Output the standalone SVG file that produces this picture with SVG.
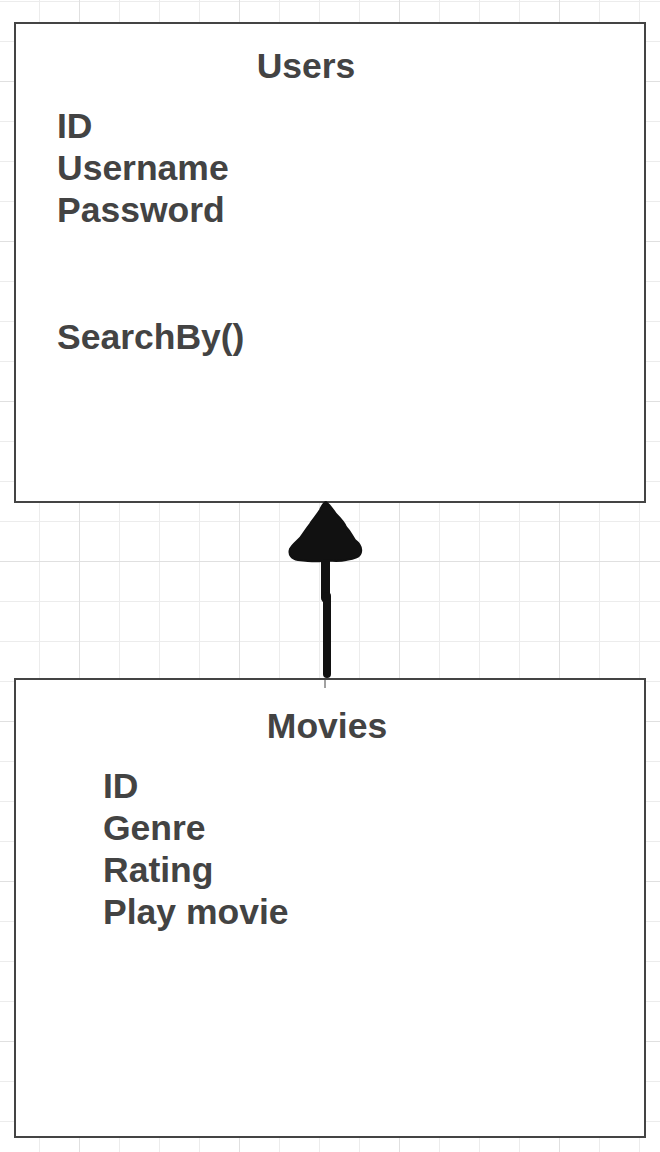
<svg xmlns="http://www.w3.org/2000/svg" width="660" height="1152" viewBox="0 0 660 1152">
  <defs>
    <pattern id="minor" patternUnits="userSpaceOnUse" x="39" y="1" width="40" height="40">
      <path d="M0,0 V40 M0,0 H40" fill="none" stroke="#ececec" stroke-width="2"/>
    </pattern>
    <pattern id="major" patternUnits="userSpaceOnUse" x="79" y="81" width="160" height="160">
      <path d="M0,0 V160 M0,0 H160" fill="none" stroke="#e0e0e0" stroke-width="2"/>
    </pattern>
  </defs>
  <style>
    .box { fill: #ffffff; stroke: #444444; stroke-width: 2; }
    .title { font-family: "Liberation Sans", Arial, sans-serif; font-weight: bold; font-size: 35.5px; fill: #434343; text-anchor: middle; }
    .item { font-family: "Liberation Sans", Arial, sans-serif; font-weight: bold; font-size: 35.5px; fill: #434343; }
  </style>
  <rect width="660" height="1152" fill="#ffffff"/>
  <rect width="660" height="1152" fill="url(#minor)"/>
  <rect width="660" height="1152" fill="url(#major)"/>

  <g id="users">
    <rect class="box" x="15" y="23" width="630" height="479"/>
    <text class="title" x="306" y="77.5">Users</text>
    <text class="item" x="57" y="137.5">ID</text>
    <text class="item" x="57" y="180">Username</text>
    <text class="item" x="57" y="222">Password</text>
    <text class="item" x="57" y="348.5">SearchBy()</text>
  </g>

  <g id="movies">
    <rect class="box" x="15" y="679" width="630" height="458"/>
    <text class="title" x="327" y="737.5">Movies</text>
    <text class="item" x="103" y="797.5">ID</text>
    <text class="item" x="103" y="839.5">Genre</text>
    <text class="item" x="103" y="881.5">Rating</text>
    <text class="item" x="103" y="923.5">Play movie</text>
  </g>

  <g id="connectors">
    <line x1="325" y1="679" x2="325" y2="688" stroke="#444444" stroke-width="1"/>
    <line x1="325.5" y1="555" x2="325.5" y2="598" stroke="#111111" stroke-width="9" stroke-linecap="round"/>
    <line x1="327" y1="596" x2="327" y2="674" stroke="#111111" stroke-width="8" stroke-linecap="round"/>
    <path d="M326,502 C330,505 333,510 336,514 C340,518 344,522 346,527 C350,531 352,536 355,540 C359,543 362,547 361,552 C360,558 352,559 346,560 C338,562 330,560 322,561 C314,562 306,561 298,560 C292,559 288,555 290,549 C292,545 296,542 300,538 C303,534 306,529 310,524 C313,519 317,515 320,510 C322,506 323,503 326,502 Z" fill="#111111" stroke="#111111" stroke-width="2" stroke-linejoin="round"/>
  </g>
</svg>
